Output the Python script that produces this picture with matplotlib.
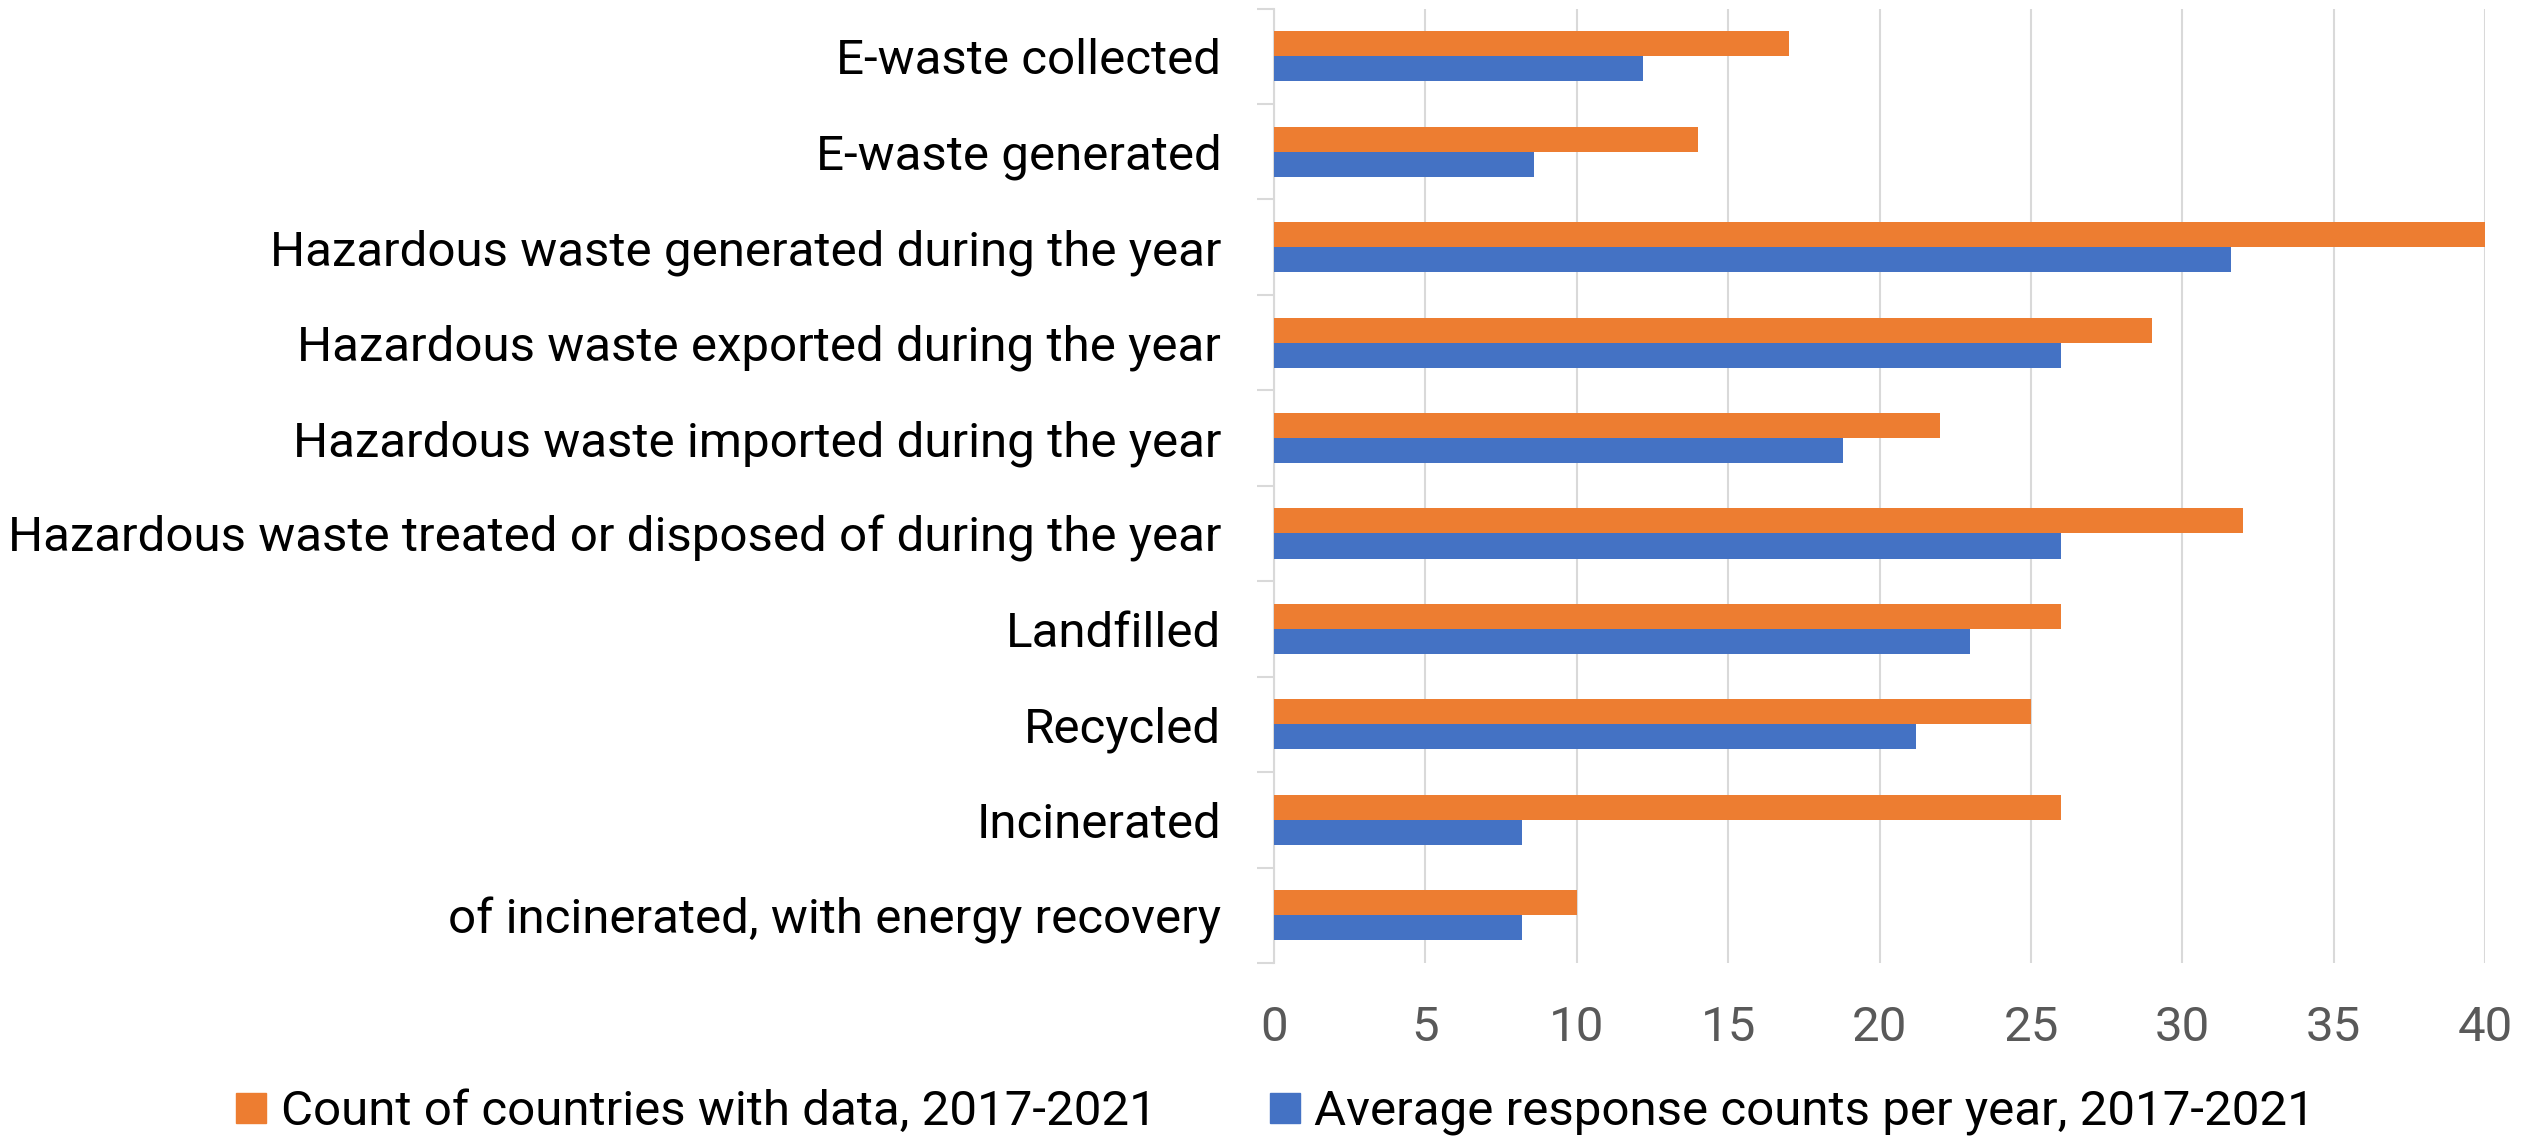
import numpy as np
import matplotlib
matplotlib.use("Agg")
import matplotlib.pyplot as plt
from matplotlib.lines import Line2D

plt.rcParams['font.family'] = ['Roboto', 'DejaVu Sans']

categories = [
    "E-waste collected",
    "E-waste generated",
    "Hazardous waste generated during the year",
    "Hazardous waste exported during the year",
    "Hazardous waste imported during the year",
    "Hazardous waste treated or disposed of during the year",
    "Landfilled",
    "Recycled",
    "Incinerated",
    "of incinerated, with energy recovery",
]
count_countries = [17, 14, 40, 29, 22, 32, 26, 25, 26, 10]
avg_responses = [12.2, 8.6, 31.6, 26, 18.8, 26, 23, 21.2, 8.2, 8.2]
x_ticks = [0, 5, 10, 15, 20, 25, 30, 35, 40]

ORANGE = "#ED7D31"
BLUE = "#4472C4"
GRID = "#D9D9D9"
FS = 35.5

fig = plt.figure(figsize=(25.26, 11.43), dpi=100)
# axes box placed to match the reference layout
ax = fig.add_axes([0.5044, 0.1575, 0.4794, 0.835])

y = np.arange(len(categories))
h = 0.263
ax.barh(y - h / 2, count_countries, height=h, color=ORANGE, zorder=3)
ax.barh(y + h / 2, avg_responses, height=h, color=BLUE, zorder=3)

ax.set_ylim(len(categories) - 0.5, -0.5)
ax.set_xlim(0, 40)
ax.set_xticks(x_ticks)
ax.set_yticks(y)
ax.set_yticklabels(categories)
ax.set_yticks(np.arange(-0.5, len(categories), 1), minor=True)

ax.tick_params(axis='y', which='major', length=0, pad=38, labelsize=FS, labelcolor='black')
ax.tick_params(axis='y', which='minor', length=12, width=1.5, color=GRID)
ax.tick_params(axis='x', length=0, pad=30, labelsize=FS, labelcolor='#595959')

ax.grid(axis='x', color=GRID, linewidth=1.5, zorder=0)
for s in ['top', 'right', 'bottom']:
    ax.spines[s].set_visible(False)
ax.spines['left'].set_color(GRID)
ax.spines['left'].set_linewidth(1.5)

handles = [
    Line2D([], [], marker='s', linestyle='none', markersize=21, color=ORANGE),
    Line2D([], [], marker='s', linestyle='none', markersize=21, color=BLUE),
]
labels = ["Count of countries with data, 2017-2021", "Average response counts per year, 2017-2021"]
fig.legend(handles, labels, loc='center', bbox_to_anchor=(0.505, 0.027), ncol=2,
           frameon=False, fontsize=FS, handlelength=0.6, handletextpad=0.3,
           columnspacing=2.3, borderpad=0)

fig.savefig("out.png", dpi=100)
